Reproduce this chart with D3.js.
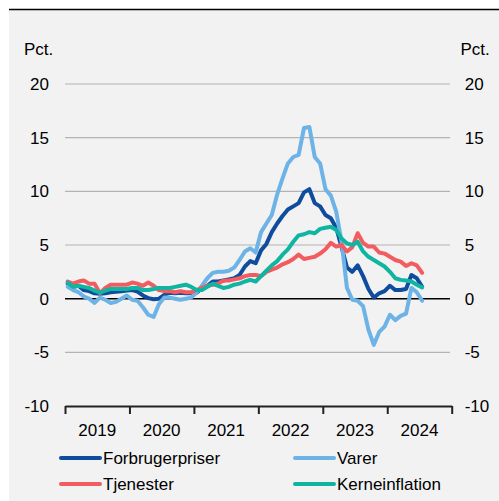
<!DOCTYPE html>
<html>
<head>
<meta charset="utf-8">
<script src="https://cdn.jsdelivr.net/npm/d3@7"></script>
<style>
  html, body { margin: 0; padding: 0; background: #ffffff; }
  svg { display: block; }
  text { font-family: "Liberation Sans", Arial, sans-serif; fill: #000; }
</style>
</head>
<body>
<svg id="chart" width="499" height="501"></svg>
<script>
// ---- Data (monthly, Jan 2019 - Jul 2024, pct. y/y) ----
const years = ["2019", "2020", "2021", "2022", "2023", "2024"];
const yTicks = [-10, -5, 0, 5, 10, 15, 20];
const gridValues = [-5, 5, 10, 15, 20];

const forbrugerpriser = [
  1.4, 1.1, 1.2, 0.8, 0.7, 0.5, 0.45, 0.5, 0.6, 0.65, 0.7, 0.75,
  0.8, 0.65, 0.3, 0.05, -0.05, 0.0, 0.35, 0.55, 0.5, 0.55, 0.5, 0.5,
  0.55, 1.0, 1.2, 1.6, 1.6, 1.7, 1.8, 1.9, 2.2, 3.0, 3.5, 3.3,
  4.5, 5.1, 6.2, 7.0, 7.7, 8.3, 8.6, 8.9, 9.9, 10.2, 8.9, 8.6,
  7.8, 7.5, 6.6, 4.8, 2.9, 2.5, 3.1, 2.1, 0.9, 0.1, 0.5, 0.7,
  1.2, 0.8, 0.8, 0.9, 2.2, 1.9, 1.1
];
const varer = [
  1.1, 0.8, 0.6, 0.2, 0.0, -0.4, 0.1, -0.1, -0.4, -0.3, 0.0, 0.3,
  -0.1, -0.2, -0.8, -1.5, -1.7, -0.5, 0.1, 0.1, 0.0, -0.1, 0.0, 0.1,
  0.6, 1.2, 1.9, 2.4, 2.5, 2.5, 2.6, 2.9, 3.6, 4.4, 4.7, 4.3,
  6.2, 7.0, 7.8, 9.7, 11.2, 12.6, 13.2, 13.4, 15.9, 16.0, 13.2, 12.6,
  10.2, 9.6, 8.1, 5.3, 1.0, -0.1, -0.2, -0.7, -2.9, -4.3, -3.1, -2.6,
  -1.5, -2.0, -1.6, -1.4, 1.0, 0.6, -0.2
];
const tjenester = [
  1.6, 1.4, 1.6, 1.7, 1.4, 1.4, 0.5, 1.0, 1.3, 1.3, 1.3, 1.3,
  1.5, 1.4, 1.2, 1.5, 1.2, 0.8, 0.7, 0.7, 0.6, 0.7, 0.6, 0.6,
  0.8, 1.0, 1.2, 1.3, 1.4, 1.7, 1.7, 1.8, 1.9, 2.1, 2.2, 2.2,
  2.1, 2.5, 2.7, 2.9, 3.2, 3.4, 3.7, 4.1, 3.7, 3.8, 3.9, 4.2,
  4.6, 5.2, 4.85, 5.0, 4.4, 4.8, 6.1, 5.2, 4.85, 4.85, 4.3, 4.2,
  3.9, 3.6, 3.45, 3.05, 3.3, 3.1, 2.4
];
const kerneinflation = [
  1.5, 1.1, 1.2, 1.1, 1.0, 0.75, 0.55, 0.75, 0.9, 0.9, 0.9, 0.9,
  1.0, 1.0, 0.8, 0.8, 0.9, 1.0, 1.0, 1.0, 1.1, 1.2, 1.3, 1.1,
  0.8, 0.8, 1.1, 1.4, 1.2, 1.0, 1.1, 1.3, 1.4, 1.6, 1.75, 1.6,
  2.1, 2.6, 3.1, 3.5, 4.1, 4.6, 5.3, 5.9, 6.0, 6.2, 6.1, 6.5,
  6.6, 6.7, 6.4, 5.6, 5.15, 5.0, 5.3, 4.4, 3.9, 3.6, 3.3, 3.0,
  2.5, 1.9, 1.75, 1.7, 1.6, 1.3, 1.05
];

const seriesNames = ["Forbrugerpriser", "Varer", "Tjenester", "Kerneinflation"];
const seriesColors = ["#0f4c9e", "#6db3e6", "#f25b60", "#10b5a1"];
const seriesData = [forbrugerpriser, varer, tjenester, kerneinflation];

// ---- Layout ----
const svg = d3.select("#chart");
const plotLeft = 65, plotRight = 451.7, plotTop = 84, plotBottom = 406;

svg.append("rect").attr("x", 9).attr("y", 9).attr("width", 490).attr("height", 492).attr("fill", "#f2f2f2");
svg.append("line").attr("x1", 9).attr("x2", 499).attr("y1", 9.5).attr("y2", 9.5)
  .attr("stroke", "#000").attr("stroke-width", 1.5);

const x = d3.scaleLinear().domain([0, years.length * 12]).range([plotLeft, plotRight]);
const y = d3.scaleLinear().domain([-10, 20]).range([plotBottom, plotTop]);

// grid lines
svg.append("g").selectAll("line").data(gridValues).join("line")
  .attr("x1", plotLeft).attr("x2", 450)
  .attr("y1", d => y(d)).attr("y2", d => y(d))
  .attr("stroke", "#b3b3b3").attr("stroke-width", 1.2);

// zero line
svg.append("line").attr("x1", plotLeft).attr("x2", 450)
  .attr("y1", y(0)).attr("y2", y(0))
  .attr("stroke", "#000").attr("stroke-width", 1.5);

// y axes (labels only)
const fmt = d => String(d);
const yLeft = svg.append("g").attr("transform", `translate(${plotLeft},0)`)
  .call(d3.axisLeft(y).tickValues(yTicks).tickFormat(fmt).tickSize(0).tickPadding(16));
const yRight = svg.append("g").attr("transform", `translate(${plotRight},0)`)
  .call(d3.axisRight(y).tickValues(yTicks).tickFormat(fmt).tickSize(0).tickPadding(13));
[yLeft, yRight].forEach(g => {
  g.select(".domain").remove();
  g.selectAll("text").attr("font-size", 17).attr("font-family", "Liberation Sans, Arial, sans-serif").attr("fill", "#000");
});

svg.append("text").attr("x", 24).attr("y", 55).attr("font-size", 17).text("Pct.");
svg.append("text").attr("x", 460.5).attr("y", 55).attr("font-size", 17).text("Pct.");

// x axis
const xAxis = svg.append("g").attr("transform", `translate(0,${plotBottom})`)
  .call(d3.axisBottom(x).tickValues(d3.range(0, years.length * 12 + 1, 12))
    .tickSize(8).tickSizeOuter(0).tickFormat(""));
xAxis.select(".domain").attr("stroke", "#222").attr("stroke-width", 2);
xAxis.selectAll(".tick line").attr("stroke", "#222").attr("stroke-width", 2);

svg.append("g").selectAll("text").data(years).join("text")
  .attr("x", (d, i) => x(i * 12 + 6))
  .attr("y", 436)
  .attr("text-anchor", "middle")
  .attr("font-size", 17)
  .text(d => d);

// lines
const line = d3.line().x((d, i) => x(i + 0.5)).y(d => y(d));
svg.append("g").selectAll("path").data(seriesData).join("path")
  .attr("d", d => line(d))
  .attr("fill", "none")
  .attr("stroke", (d, i) => seriesColors[i])
  .attr("stroke-width", 4)
  .attr("stroke-linejoin", "round")
  .attr("stroke-linecap", "round");

// legend
const legendPos = [
  { lx: 60, ly: 458 }, { lx: 294, ly: 458 },
  { lx: 60, ly: 484 }, { lx: 294, ly: 484 }
];
const lg = svg.append("g").selectAll("g").data(seriesNames).join("g")
  .attr("transform", (d, i) => `translate(${legendPos[i].lx},${legendPos[i].ly})`);
lg.append("line").attr("x1", 1).attr("x2", 40).attr("y1", 0).attr("y2", 0)
  .attr("stroke", (d, i) => seriesColors[i]).attr("stroke-width", 4).attr("stroke-linecap", "round");
lg.append("text").attr("x", 43).attr("y", 6).attr("font-size", 17).text(d => d);
</script>
</body>
</html>
